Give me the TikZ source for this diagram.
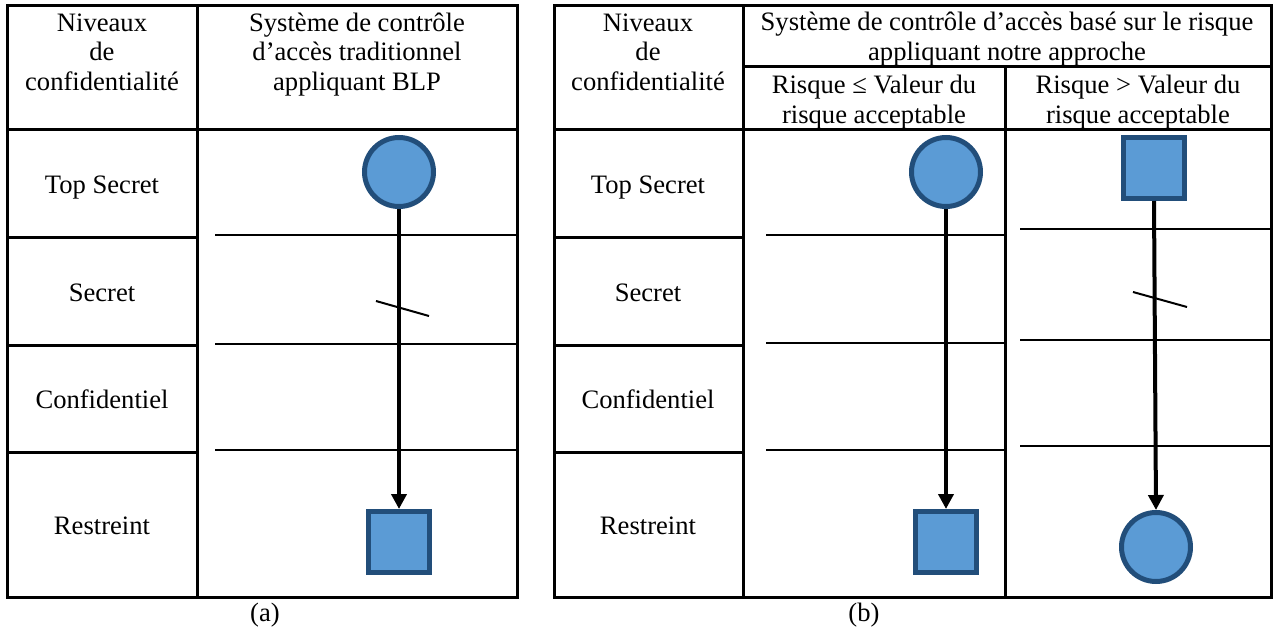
\documentclass[tikz,border=0pt]{standalone}
\usepackage{fontspec}
\setmainfont{Liberation Serif}
\usetikzlibrary{arrows.meta}
\definecolor{shapefill}{RGB}{91,155,213}
\definecolor{shapeedge}{RGB}{34,78,122}

\begin{document}
\begin{tikzpicture}[x=0.5pt,y=-0.5pt,
  frame/.style={line width=1.5pt},
  rowline/.style={line width=1pt},
  txt/.style={font=\fontsize{13.3}{14.75}\selectfont, inner sep=0pt, align=center},
  disc/.style={circle, draw=shapeedge, fill=shapefill, line width=2.5pt,
               minimum size=34.5pt, inner sep=0pt},
  block/.style={rectangle, draw=shapeedge, fill=shapefill, line width=2.5pt,
                minimum size=30.5pt, inner sep=0pt},
  flow/.style={line width=2pt, -{Triangle[length=7.5pt,width=7.5pt]}},
  bar/.style={line width=1pt}]
\useasboundingbox (0,0) rectangle (1276,632);

% ---------- table (a): classical BLP ----------
\draw[frame] (7,5) rectangle (517,597);
\draw[frame] (197,5) -- (197,597);
\draw[frame] (7,129) -- (517,129);
\foreach \y in {237,345,452} \draw[frame] (7,\y) -- (197,\y);
\foreach \y in {235,344,450} \draw[rowline] (215,\y) -- (517,\y);

% multi-line nodes: the base anchor sits on the last line
\node[txt, anchor=base] (hA1) at (102,90) {Niveaux\\de\\confidentialité};
\node[txt, anchor=base] (hA2) at (357,90) {Système de contrôle\\d’accès traditionnel\\appliquant BLP};

\node[txt, anchor=base] (lA1) at (102,193) {Top Secret};
\node[txt, anchor=base] (lA2) at (102,301) {Secret};
\node[txt, anchor=base] (lA3) at (102,408) {Confidentiel};
\node[txt, anchor=base] (lA4) at (102,534) {Restreint};

\node[disc]  (cA) at (399,172) {};
\node[block] (sA) at (399,542) {};
\draw[flow] (cA.south) -- (sA.north);
\coordinate (tA1) at (376,301);
\coordinate (tA2) at (429,316);
\draw[bar] (tA1) -- (tA2);

\node[txt, anchor=base] (capA) at (265,621) {(a)};

% ---------- table (b): risk-based approach ----------
\draw[frame] (554,5) rectangle (1271,597);
\draw[frame] (743,5) -- (743,597);
\draw[frame] (743,66) -- (1271,66);
\draw[frame] (1005,66) -- (1005,597);
\draw[frame] (554,129) -- (1271,129);
\foreach \y in {237,345,452} \draw[frame] (554,\y) -- (743,\y);
\foreach \y in {235,343,450} \draw[rowline] (766,\y) -- (1005,\y);
\foreach \y in {229,340,446} \draw[rowline] (1020,\y) -- (1271,\y);

\node[txt, anchor=base] (hB1) at (648,90) {Niveaux\\de\\confidentialité};
\node[txt, anchor=base] (hB2) at (1007,60) {Système de contrôle d’accès basé sur le risque\\appliquant notre approche};
\node[txt, anchor=base] (hB3) at (874,123) {Risque ≤ Valeur du\\risque acceptable};
\node[txt, anchor=base] (hB4) at (1138,123) {Risque > Valeur du\\risque acceptable};

\node[txt, anchor=base] (lB1) at (648,193) {Top Secret};
\node[txt, anchor=base] (lB2) at (648,301) {Secret};
\node[txt, anchor=base] (lB3) at (648,408) {Confidentiel};
\node[txt, anchor=base] (lB4) at (648,534) {Restreint};

\node[disc]  (cB) at (946,172) {};
\node[block] (sB) at (946,542) {};
\draw[flow] (cB.south) -- (sB.north);

\node[block] (sC) at (1154,168) {};
\node[disc]  (cC) at (1156,547) {};
\draw[flow] (sC.south) -- (cC.north);
\coordinate (tC1) at (1133,292);
\coordinate (tC2) at (1187,307);
\draw[bar] (tC1) -- (tC2);

\node[txt, anchor=base] (capB) at (864,621) {(b)};
\end{tikzpicture}
\end{document}
